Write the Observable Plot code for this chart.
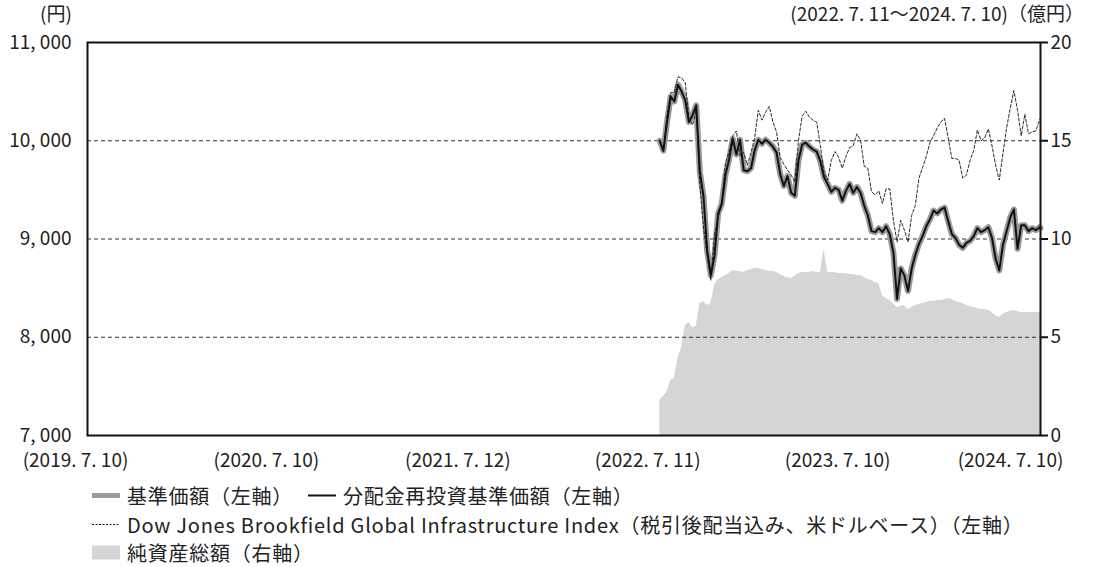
<!DOCTYPE html>
<html>
<head>
<meta charset="utf-8">
<script src="https://cdn.jsdelivr.net/npm/d3@7"></script>
<script src="https://cdn.jsdelivr.net/npm/@observablehq/plot@0.6"></script>
<style>
  html, body { margin: 0; padding: 0; background: #fff; }
  body { width: 1100px; height: 567px; position: relative; overflow: hidden;
         font-family: "Noto Sans CJK JP", "Noto Sans", sans-serif; color: #222; }
  #chart { position: absolute; left: 0; top: 0; }
  .lbl { position: absolute; font-size: 19px; line-height: 20px; white-space: nowrap; }
  .row { position: absolute; font-size: 20px; letter-spacing: 0.75px; line-height: 29px; height: 29px; white-space: nowrap; display: flex; align-items: center; }
  .row svg { display: block; margin-right: 7px; }
</style>
</head>
<body>
<div id="chart"></div>
<div class="lbl" style="left:40px; top:3px;">(円)</div>
<div class="lbl" style="right:16px; top:3px;">(2022. 7. 11～2024. 7. 10)（億円）</div>
<div class="row" style="left:92px; top:481px;">
  <svg width="28" height="29"><line x1="0" y1="14.5" x2="28" y2="14.5" stroke="#9a9a9a" stroke-width="5"/></svg>
  <span>基準価額（左軸）</span>
</div>
<div class="row" style="left:308px; top:481px;">
  <svg width="28" height="29"><line x1="0" y1="14.5" x2="28" y2="14.5" stroke="#111" stroke-width="2"/></svg>
  <span>分配金再投資基準価額（左軸）</span>
</div>
<div class="row" style="left:92px; top:510px;">
  <svg width="28" height="29"><line x1="0" y1="14.5" x2="28" y2="14.5" stroke="#111" stroke-width="1" stroke-dasharray="2,1.5"/></svg>
  <span>Dow Jones Brookfield Global Infrastructure Index（税引後配当込み、米ドルベース）（左軸）</span>
</div>
<div class="row" style="left:92px; top:538px;">
  <svg width="28" height="29"><rect x="0" y="7.5" width="28" height="14" fill="#d4d5d7"/></svg>
  <span>純資産総額（右軸）</span>
</div>
<script>
// ---- data (weekly readings) ----
const dates = [
"2022-07-11","2022-07-18","2022-07-25","2022-08-01","2022-08-08","2022-08-15","2022-08-22","2022-08-29","2022-09-05","2022-09-12",
"2022-09-19","2022-09-26","2022-10-03","2022-10-10","2022-10-17","2022-10-24","2022-10-31","2022-11-07","2022-11-14","2022-11-21",
"2022-11-28","2022-12-05","2022-12-12","2022-12-19","2022-12-26",
"2023-01-02","2023-01-09","2023-01-16","2023-01-23","2023-01-30","2023-02-06","2023-02-13","2023-02-20","2023-02-27","2023-03-06",
"2023-03-13","2023-03-20","2023-03-27","2023-04-03","2023-04-10","2023-04-17","2023-04-24","2023-05-01","2023-05-08","2023-05-15",
"2023-05-22","2023-05-29","2023-06-05","2023-06-12","2023-06-19","2023-06-26","2023-07-03","2023-07-10","2023-07-17","2023-07-24",
"2023-07-31","2023-08-07","2023-08-14","2023-08-21","2023-08-28","2023-09-04","2023-09-11","2023-09-18","2023-09-25","2023-10-02",
"2023-10-09","2023-10-16","2023-10-23","2023-10-30","2023-11-06","2023-11-13","2023-11-20","2023-11-27","2023-12-04","2023-12-11",
"2023-12-18","2023-12-25",
"2024-01-01","2024-01-08","2024-01-15","2024-01-22","2024-01-29","2024-02-05","2024-02-12","2024-02-19","2024-02-26","2024-03-04",
"2024-03-11","2024-03-18","2024-03-25","2024-04-01","2024-04-08","2024-04-15","2024-04-22","2024-04-29","2024-05-06","2024-05-13",
"2024-05-20","2024-05-27","2024-06-03","2024-06-10","2024-06-17","2024-06-24","2024-07-01","2024-07-08","2024-07-10"
];
// 基準価額 (円)
const basePrice = [
10000,9900,10190,10450,10400,10570,10500,10410,10190,10260,
10360,9680,9430,8880,8630,8830,9260,9360,9650,9810,
10020,9860,10010,9700,9690,9720,9900,10010,9970,10010,
9980,9940,9880,9660,9540,9640,9470,9440,9800,9960,
9980,9940,9910,9890,9790,9630,9560,9480,9520,9500,
9390,9490,9560,9470,9530,9470,9340,9240,9080,9070,
9110,9070,9130,9050,8860,8390,8700,8630,8470,8700,
8840,8950,9030,9130,9200,9290,9260,9300,9320,9180,
9050,9010,8940,8910,8960,8980,9030,9110,9070,9090,
9120,9010,8800,8680,8940,9080,9220,9300,8900,9140,
9140,9080,9110,9090,9120,9110
];
// 分配金再投資基準価額 (円)
const reinvestPrice = [
10000,9900,10190,10450,10400,10570,10500,10410,10190,10260,
10360,9680,9430,8880,8630,8830,9260,9360,9650,9810,
10020,9860,10010,9700,9690,9720,9900,10010,9970,10010,
9980,9940,9880,9660,9540,9640,9470,9440,9800,9960,
9980,9940,9910,9890,9790,9630,9560,9480,9520,9500,
9390,9490,9560,9470,9530,9470,9340,9240,9080,9070,
9110,9070,9130,9050,8860,8390,8700,8630,8470,8700,
8840,8950,9030,9130,9200,9290,9260,9300,9320,9180,
9050,9010,8940,8910,8960,8980,9030,9110,9070,9090,
9120,9010,8800,8680,8940,9080,9220,9300,8900,9140,
9140,9080,9110,9090,9120,9110
];
// Dow Jones Brookfield Global Infrastructure Index (指数化)
const indexValues = [
10000,9890,10260,10490,10490,10650,10640,10590,10230,10160,
10310,9540,9110,8830,8580,9040,9220,9350,9770,9890,
10050,10100,9850,9880,9750,9880,10030,10310,10210,10290,
10350,10190,10090,9830,9760,9700,9650,9580,10000,10250,
10300,10240,10210,10190,9950,9670,9600,9800,9890,9830,
9720,9840,9930,9950,10070,10010,9740,9720,9480,9450,
9490,9360,9510,9510,9190,8970,9190,9090,8970,9240,
9340,9620,9730,9840,9980,10050,10130,10190,10230,10030,
9820,9820,9800,9620,9650,9800,9900,10110,10000,10030,
10120,9950,9750,9600,9870,10130,10330,10510,10310,10050,
10270,10070,10090,10100,10210,10230
];
// 純資産総額 (億円)
const netAssets = [
1.78,1.98,2.24,2.80,2.90,3.92,4.48,5.60,5.75,5.50,
5.55,6.72,6.82,6.62,6.72,7.63,7.94,8.04,8.14,8.24,
8.40,8.35,8.35,8.30,8.40,8.45,8.50,8.50,8.45,8.40,
8.35,8.35,8.30,8.19,8.09,8.04,7.99,8.09,8.24,8.30,
8.30,8.30,8.35,8.30,8.30,9.47,8.30,8.30,8.30,8.24,
8.24,8.24,8.19,8.19,8.14,8.14,8.04,7.94,7.89,7.79,
7.74,7.12,6.97,6.87,6.72,6.51,6.56,6.62,6.41,6.51,
6.62,6.67,6.72,6.77,6.82,6.82,6.87,6.87,6.92,6.97,
6.92,6.82,6.77,6.72,6.62,6.56,6.51,6.46,6.41,6.41,
6.36,6.26,6.11,6.01,6.16,6.26,6.31,6.36,6.31,6.26,
6.26,6.26,6.26,6.26,6.26,6.26
];
const xTickDates = ["2019-07-10","2020-07-10","2021-07-12","2022-07-11","2023-07-10","2024-07-10"];
const xTickLabels = ["(2019. 7. 10)","(2020. 7. 10)","(2021. 7. 12)","(2022. 7. 11)","(2023. 7. 10)","(2024. 7. 10)"];
const leftTicks = [7000, 8000, 9000, 10000, 11000];
const gridTicks = [8000, 9000, 10000];
const rightTicks = [0, 5, 10, 15, 20];

// ---- build ----
const Y0 = 7000, K = 200; // right axis (億円) mapped onto left axis (円): 20億円 ↔ 4,000円
const rows = dates.map((d, i) => ({
  date: new Date(d),
  base: basePrice[i],
  reinvest: reinvestPrice[i],
  index: indexValues[i],
  nav: Y0 + netAssets[i] * K
}));
const tickMap = new Map(xTickDates.map((d, i) => [new Date(d).getTime(), xTickLabels[i]]));
const fmtX = d => tickMap.get(d.getTime()) ?? "";
const fmtL = d => d3.format(",")(d).replace(",", ", ");

const chart = Plot.plot({
  width: 1100,
  height: 480,
  marginLeft: 87,
  marginRight: 60,
  marginTop: 42,
  marginBottom: 45,
  style: { fontFamily: '"Noto Sans CJK JP", "Noto Sans", sans-serif', fontSize: "19px", color: "#222", background: "transparent", overflow: "visible" },
  x: { type: "utc", domain: [new Date("2019-07-10"), new Date("2024-07-10")] },
  y: { domain: [7000, 11000] },
  marks: [
    Plot.areaY(rows, { x: "date", y1: Y0, y2: "nav", fill: "#d4d5d7" }),
    Plot.ruleY(gridTicks, { stroke: "#333", strokeWidth: 1, strokeDasharray: "4,3" }),
    Plot.lineY(rows, { x: "date", y: "base", stroke: "#9a9a9a", strokeWidth: 6, strokeLinejoin: "round" }),
    Plot.lineY(rows, { x: "date", y: "reinvest", stroke: "#111", strokeWidth: 2, strokeLinejoin: "round" }),
    Plot.lineY(rows, { x: "date", y: "index", stroke: "#111", strokeWidth: 0.9, strokeDasharray: "3,2" }),
    Plot.frame({ stroke: "#111", strokeWidth: 2 }),
    Plot.axisY({ anchor: "left", ticks: leftTicks, tickSize: 0, tickPadding: 16, tickFormat: fmtL, label: null }),
    Plot.axisY({ anchor: "right", ticks: rightTicks.map(t => Y0 + t * K), tickSize: 7, tickPadding: 3, stroke: "#111", strokeWidth: 2, tickFormat: v => String((v - Y0) / K), label: null }),
    Plot.axisX({ ticks: xTickDates.slice(0, 5).map(d => new Date(d)), tickFormat: fmtX, tickSize: 0, tickPadding: 18, dx: -12, label: null }),
    Plot.axisX({ ticks: xTickDates.slice(5).map(d => new Date(d)), tickFormat: fmtX, tickSize: 0, tickPadding: 18, dx: -30, label: null })
  ]
});
document.getElementById("chart").appendChild(chart);
</script>
</body>
</html>
